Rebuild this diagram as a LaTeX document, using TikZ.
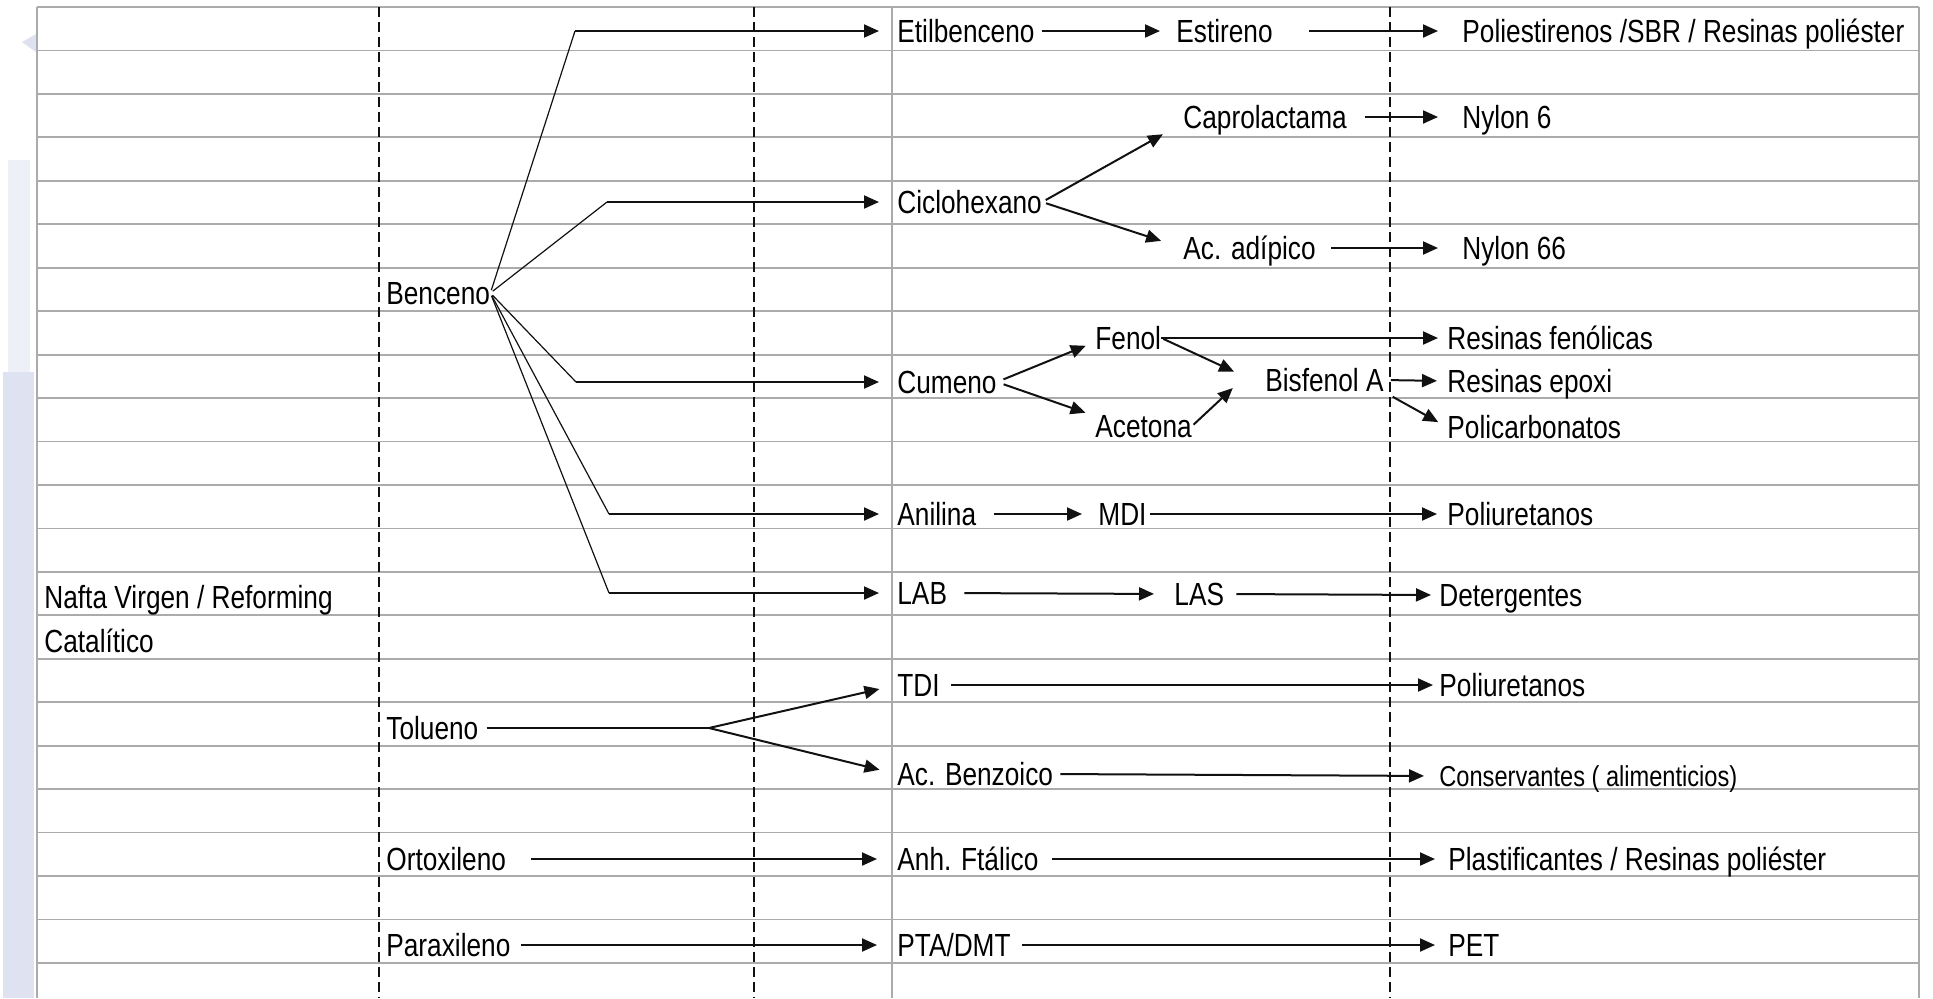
\documentclass[tikz,border=0pt]{standalone}
\usepackage{fontspec}
\setmainfont{Liberation Sans}[FakeStretch=0.82]
\usetikzlibrary{arrows.meta}

\definecolor{cinza}{HTML}{ABABAB}
\definecolor{fundo}{HTML}{D4D9EC}
\definecolor{traco}{HTML}{111111}
\tikzset{
  grade/.style={draw=cinza,line width=0.9pt},
  colfina/.style={draw=cinza,line width=0.6pt},
  guia/.style={draw=traco,line width=0.75pt,dash pattern=on 5pt off 2.5pt},
  rot/.style={anchor=west,inner sep=0pt,text height=11.5pt,text depth=0pt,font=\fontsize{16}{19}\selectfont},
  rotp/.style={rot,font=\fontsize{14.4}{17}\selectfont,text height=10.3pt},
  seta/.style={draw=traco,line width=1pt,-{Triangle[length=7.5pt,width=6.5pt]},shorten <=4pt,shorten >=9pt},
  liga/.style={draw=traco,line width=1pt,shorten <=4pt},
  ramo/.style={draw=traco,line width=0.6pt},
}

\begin{document}
\begin{tikzpicture}[x=0.5pt,y=-0.5pt]
  \useasboundingbox (0,0) rectangle (1933,998);
  % fundo do slide
  \fill[fundo!75] (3,372) rectangle (34,998);
  \fill[fundo!40] (8,160) rectangle (30,372);
  \fill[fundo!80] (22,42) -- (36,34) -- (36,52) -- cycle;
  % grade da planilha
  \foreach \k in {0,...,22} \draw[grade] (37,{7+43.45*\k}) -- (1919,{7+43.45*\k});
  \draw[grade] (37,7) -- (37,998);
  \draw[grade] (1919,7) -- (1919,998);
  \draw[colfina] (892,7) -- (892,998);
  \foreach \x in {379,754,1390} \draw[guia] (\x,7) -- (\x,998);
  % materias-primas
  \node[rot] (nafta) at (44,597) {Nafta Virgen / Reforming};
  \node[rot] (catal) at (44,641) {Catalítico};
  \node[rot] (benceno) at (386,293) {Benceno};
  \node[rot] (tolueno) at (386,728) {Tolueno};
  \node[rot] (ortox) at (386,859) {Ortoxileno};
  \node[rot] (parax) at (386,945) {Paraxileno};
  % intermediarios
  \node[rot] (etil) at (897,31) {Etilbenceno};
  \node[rot] (ciclo) at (897,202) {Ciclohexano};
  \node[rot] (cumeno) at (897,382) {Cumeno};
  \node[rot] (anilina) at (897,514) {Anilina};
  \node[rot] (lab) at (897,593) {LAB};
  \node[rot] (tdi) at (897,685) {TDI};
  \node[rot] (benzoico) at (897,774) {Ac. Benzoico};
  \node[rot] (ftalico) at (897,859) {Anh. Ftálico};
  \node[rot] (pta) at (897,945) {PTA/DMT};
  \node[rot] (estireno) at (1176,31) {Estireno};
  \node[rot] (capro) at (1183,117) {Caprolactama};
  \node[rot] (adipico) at (1183,248) {Ac. adípico};
  \node[rot] (fenol) at (1095,338) {Fenol};
  \node[rot] (acetona) at (1095,426) {Acetona};
  \node[rot] (bisfenol) at (1265,380) {Bisfenol A};
  \node[rot] (mdi) at (1098,514) {MDI};
  \node[rot] (las) at (1174,594) {LAS};
  % produtos finais
  \node[rot] (poliest) at (1462,31) {Poliestirenos /SBR / Resinas poliéster};
  \node[rot] (nylon6) at (1462,117) {Nylon 6};
  \node[rot] (nylon66) at (1462,248) {Nylon 66};
  \node[rot] (resfen) at (1447,338) {Resinas fenólicas};
  \node[rot] (epoxi) at (1447,381) {Resinas epoxi};
  \node[rot] (policarb) at (1447,427) {Policarbonatos};
  \node[rot] (poliur) at (1447,514) {Poliuretanos};
  \node[rot] (deterg) at (1439,595) {Detergentes};
  \node[rot] (poliurt) at (1439,685) {Poliuretanos};
  \node[rotp] (conserv) at (1439,776) {Conservantes ( alimenticios)};
  \node[rot] (plast) at (1448,859) {Plastificantes / Resinas poliéster};
  \node[rot] (pet) at (1448,945) {PET};
  % benceno: leque
  \coordinate (b1) at (575,31);
  \coordinate (b2) at (607,202);
  \coordinate (b3) at (576,382);
  \coordinate (b4) at (609,514);
  \coordinate (b5) at (609,593);
  \foreach \b/\d in {b1/etil,b2/ciclo,b3/cumeno,b4/anilina,b5/lab} {
    \draw[ramo,shorten <=1.5pt] (benceno.east) -- (\b);
    \draw[seta,shorten <=0pt] (\b) -- (\d.west);}
  % etilbenceno e ciclohexano
  \draw[seta,shorten <=3.5pt,shorten >=8pt] (etil.east) -- (estireno.west);
  \draw[seta,shorten <=18pt,shorten >=12pt] (estireno.east) -- (poliest.west);
  \draw[seta,shorten <=2pt,shorten >=11.5pt] (ciclo.east) -- ([yshift=-3pt]capro.west);
  \draw[seta,shorten <=2pt,shorten >=11.5pt] (ciclo.east) -- (adipico.west);
  \draw[seta,shorten <=9pt,shorten >=12pt] (capro.east) -- (nylon6.west);
  \draw[seta,shorten <=7.5pt,shorten >=12pt] (adipico.east) -- (nylon66.west);
  % cumeno
  \draw[seta,shorten <=3.5pt,shorten >=5pt] (cumeno.east) -- ([yshift=-2pt]fenol.west);
  \draw[seta,shorten <=3.5pt,shorten >=5pt] (cumeno.east) -- ([yshift=5pt]acetona.west);
  \draw[seta,shorten <=0pt,shorten >=4.5pt] (fenol.east) -- (resfen.west);
  \draw[seta,shorten <=1pt,shorten >=17pt] (fenol.east) -- ([yshift=-3pt]bisfenol.west);
  \draw[seta,shorten <=1pt,shorten >=22pt] (acetona.east) -- ([yshift=11pt]bisfenol.west);
  \draw[seta,shorten <=3.5pt,shorten >=5pt] (bisfenol.east) -- (epoxi.west);
  \draw[seta,shorten <=5pt,shorten >=5pt] (bisfenol.south east) -- (policarb.west);
  % anilina e LAB
  \draw[seta,shorten <=8.5pt,shorten >=8pt] (anilina.east) -- (mdi.west);
  \draw[seta,shorten <=1.5pt,shorten >=5pt] (mdi.east) -- (poliur.west);
  \draw[seta,shorten <=8.5pt,shorten >=10pt] (lab.east) -- (las.west);
  \draw[seta,shorten <=6pt,shorten >=4pt] (las.east) -- (deterg.west);
  % tolueno
  \coordinate (t1) at (709,728);
  \draw[liga] (tolueno.east) -- (t1);
  \draw[seta,shorten <=0pt] (t1) -- (tdi.west);
  \draw[seta,shorten <=0pt] (t1) -- (benzoico.west);
  \draw[seta,shorten <=5.5pt,shorten >=3pt] (tdi.east) -- (poliurt.west);
  \draw[seta,shorten <=3.5pt,shorten >=7.5pt] (benzoico.east) -- (conserv.west);
  % xilenos
  \draw[seta,shorten <=12.5pt,shorten >=10pt] (ortox.east) -- (ftalico.west);
  \draw[seta,shorten <=6.5pt,shorten >=6.5pt] (ftalico.east) -- (plast.west);
  \draw[seta,shorten <=5pt,shorten >=10pt] (parax.east) -- (pta.west);
  \draw[seta,shorten <=5.5pt,shorten >=6.5pt] (pta.east) -- (pet.west);
\end{tikzpicture}
\end{document}
